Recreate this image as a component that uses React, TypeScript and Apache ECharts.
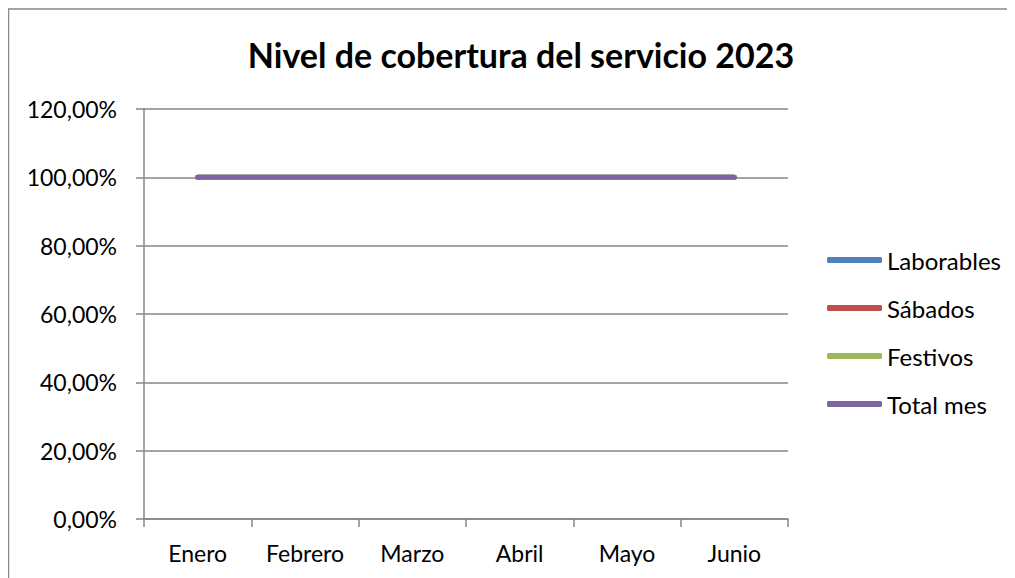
import React, { useEffect, useRef } from "react";
import * as echarts from "echarts";

const categories = ["Enero", "Febrero", "Marzo", "Abril", "Mayo", "Junio"];
const laborables = [1, 1, 1, 1, 1, 1];
const sabados = [1, 1, 1, 1, 1, 1];
const festivos = [1, 1, 1, 1, 1, 1];
const totalMes = [1, 1, 1, 1, 1, 1];
const seriesNames = ["Laborables", "Sábados", "Festivos", "Total mes"];
const seriesColors = ["#4F81BD", "#C0504D", "#9BBB59", "#8064A2"];
const titleText = "Nivel de cobertura del servicio 2023";

const FONT = "Lato, 'Noto Sans', sans-serif";

export default function App() {
  const ref = useRef<HTMLDivElement>(null);
  useEffect(() => {
    if (!ref.current) return;
    const chart = echarts.init(ref.current, undefined, { renderer: "svg" });
    const dataSets = [laborables, sabados, festivos, totalMes];
    chart.setOption({
      animation: false,
      backgroundColor: "#ffffff",
      textStyle: { fontFamily: FONT },
      title: {
        text: titleText,
        left: 508,
        top: 24,
        textAlign: "center",
        textStyle: { fontFamily: FONT, fontWeight: "bold", fontSize: 34, color: "#000" },
      },
      graphic: [
        {
          type: "rect",
          shape: { x: 0.5, y: 1, width: 1020, height: 600 },
          style: { fill: "none", stroke: "#888888", lineWidth: 1.5 },
          silent: true,
        },
      ],
      legend: {
        orient: "vertical",
        left: 814,
        top: 235,
        itemWidth: 55,
        itemHeight: 6,
        itemGap: 24,
        icon: "roundRect",
        data: seriesNames,
        textStyle: { fontFamily: FONT, fontSize: 24, color: "#000", lineHeight: 24 },
      },
      grid: { left: 136, top: 101, right: 227, bottom: 59, containLabel: false },
      xAxis: {
        type: "category",
        data: categories,
        boundaryGap: true,
        axisLine: { lineStyle: { color: "#868686", width: 1.5 } },
        axisTick: { show: true, length: 8, lineStyle: { color: "#868686", width: 1.5 } },
        axisLabel: { fontFamily: FONT, fontSize: 23, color: "#000", margin: 22 },
      },
      yAxis: {
        type: "value",
        min: 0,
        max: 1.2,
        interval: 0.2,
        axisLine: { show: true, lineStyle: { color: "#868686", width: 1.5 } },
        axisTick: { show: true, length: 8, lineStyle: { color: "#868686", width: 1.5 } },
        splitLine: { show: true, lineStyle: { color: "#868686", width: 1.5 } },
        axisLabel: {
          fontFamily: FONT,
          fontSize: 23,
          color: "#000",
          margin: 27,
          formatter: (v: number) => (v * 100).toFixed(2).replace(".", ",") + "%",
        },
      },
      series: seriesNames.map((name, i) => ({
        name,
        type: "line",
        data: dataSets[i],
        symbol: "none",
        color: seriesColors[i],
        lineStyle: { width: 5, color: seriesColors[i], cap: "round" },
      })),
    });
    return () => chart.dispose();
  }, []);
  return <div ref={ref} style={{ width: 1007, height: 570 }} />;
}
